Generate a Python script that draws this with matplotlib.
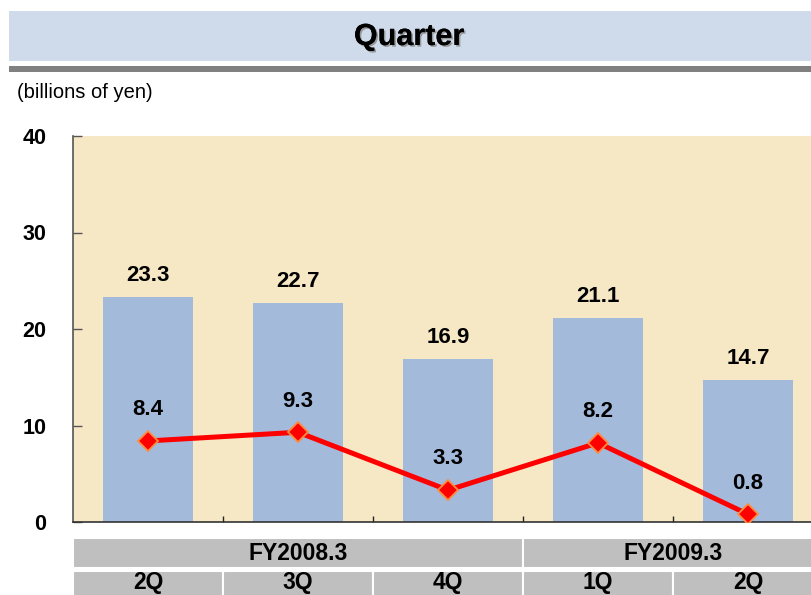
import matplotlib
matplotlib.use('Agg')
from matplotlib import pyplot as plt
from matplotlib.patches import Rectangle
import matplotlib.patheffects as pe

plt.rcParams['font.family'] = ['Liberation Sans', 'DejaVu Sans']

# data
quarters = ["2Q", "3Q", "4Q", "1Q", "2Q"]
fiscal_years = ["FY2008.3", "FY2009.3"]
fy_spans = [(0, 3), (3, 5)]
bar_values = [23.3, 22.7, 16.9, 21.1, 14.7]
line_values = [8.4, 9.3, 3.3, 8.2, 0.8]
y_ticks = [0, 10, 20, 30, 40]

bar_color = "#A4BADB"
bg_color = "#F6E7C5"
line_color = "#FF0000"

fig = plt.figure(figsize=(8.12, 5.95), dpi=100)
W, H = 812, 595


def fx(px):
    return px / W


def fy(px):
    return 1 - px / H


# header band + grey rule
fig.patches.append(Rectangle((fx(9), fy(61)), 1 - fx(9), fy(11) - fy(61),
                             transform=fig.transFigure, facecolor="#CFDBEA",
                             edgecolor="none", zorder=0))
fig.patches.append(Rectangle((fx(9), fy(72)), 1 - fx(9), fy(66) - fy(72),
                             transform=fig.transFigure, facecolor="#808080",
                             edgecolor="none", zorder=0))
fig.text(fx(409), fy(37), "Quarter", ha="center", va="center", fontsize=22,
         fontweight="bold",
         path_effects=[pe.withSimplePatchShadow(offset=(1.2, -1.2), shadow_rgbFace="#888888", alpha=0.8),
                       pe.Normal()])
fig.text(fx(17), fy(93), "(billions of yen)", ha="left", va="center", fontsize=14.5)

# main axes
ax = fig.add_axes([fx(73), fy(522), fx(823) - fx(73), fy(136) - fy(522)])
ax.set_facecolor(bg_color)
x = list(range(len(quarters)))
ax.bar(x, bar_values, width=0.6, color=bar_color, zorder=2)
ax.plot(x, line_values, color=line_color, linewidth=3.6, marker="D", markersize=10,
        markerfacecolor="#FF0000", markeredgecolor="#FF8C40", markeredgewidth=1.3, zorder=3)

for xi, v in zip(x, bar_values):
    ax.annotate(f"{v:.1f}", (xi, v), xytext=(0, 11.5), textcoords="offset points",
                ha="center", va="baseline", fontsize=16, fontweight="bold")
for xi, v in zip(x, line_values):
    ax.annotate(f"{v:.1f}", (xi, v), xytext=(0, 18.5), textcoords="offset points",
                ha="center", va="baseline", fontsize=16, fontweight="bold")

ax.set_xlim(-0.5, len(quarters) - 0.5)
ax.set_ylim(0, 40)
ax.set_yticks(y_ticks)
ax.set_yticklabels([str(t) for t in y_ticks], fontsize=15.5, fontweight="bold")
ax.tick_params(axis="y", direction="in", length=6.5, width=1, color="#555555", pad=19)
ax.set_xticks([i + 0.5 for i in range(len(quarters) - 1)])
ax.set_xticklabels([])
ax.tick_params(axis="x", direction="in", length=4.5, width=1, color="#222222")
for s in ["top", "right"]:
    ax.spines[s].set_visible(False)
ax.spines["left"].set_color("#555555")
ax.spines["bottom"].set_color("#333333")
ax.spines["left"].set_linewidth(1.2)
ax.spines["bottom"].set_linewidth(1.2)

# category table under the axes
tax = fig.add_axes([fx(73), 0, fx(823) - fx(73), fy(538)])
tax.set_xlim(-0.5, len(quarters) - 0.5)
tax.set_ylim(0, 57)
tax.axis("off")
cell_color = "#BFBFBF"
for name, (a, b) in zip(fiscal_years, fy_spans):
    tax.add_patch(Rectangle((a - 0.5, 27), b - a, 30, facecolor=cell_color,
                            edgecolor="white", linewidth=1.5))
    tax.text((a + b - 1) / 2, 42, name, ha="center", va="center",
             fontsize=16.5, fontweight="bold")
for i, q in enumerate(quarters):
    tax.add_patch(Rectangle((i - 0.5, -5), 1, 29, facecolor=cell_color,
                            edgecolor="white", linewidth=1.5))
    tax.text(i, 12, q, ha="center", va="center", fontsize=16.5, fontweight="bold")

fig.savefig("out.png", dpi=100)
